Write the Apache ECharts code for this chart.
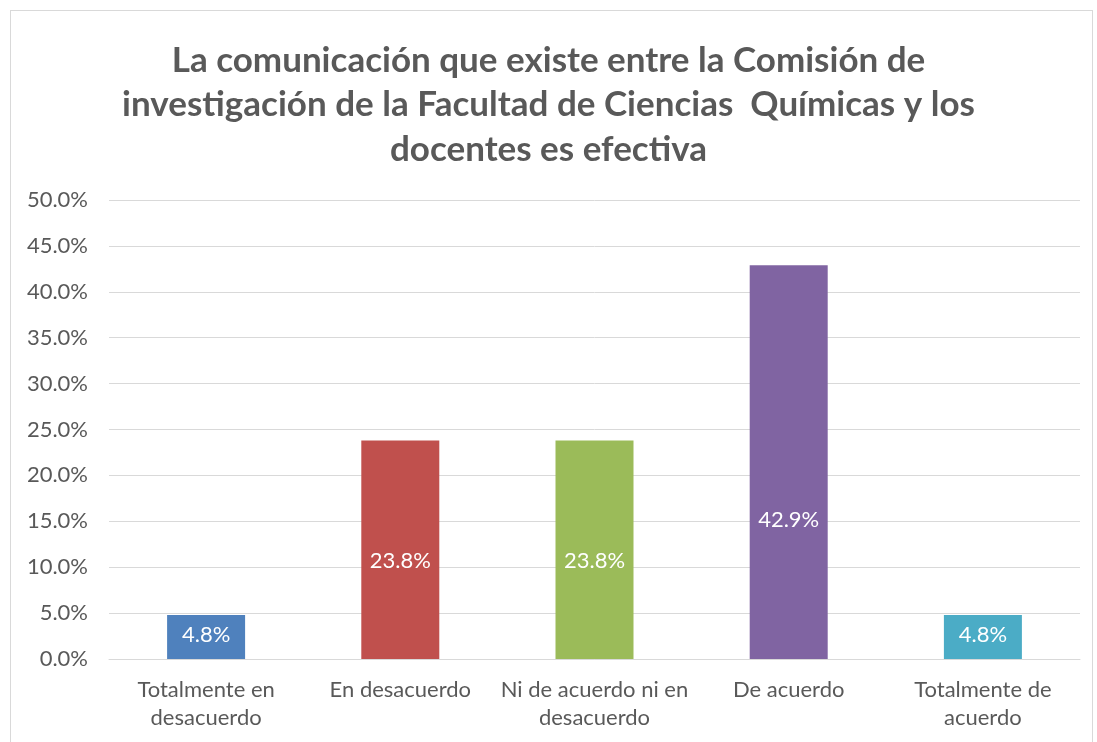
<!DOCTYPE html>
<html>
<head>
<meta charset="utf-8">
<script src="https://cdn.jsdelivr.net/npm/echarts@6/dist/echarts.min.js"></script>
<style>
  body { margin: 0; background: #fff; }
  #frame { position: absolute; left: 10px; top: 10px; width: 1081px; height: 760px; border: 1px solid #d9d9d9; }
  #chart { position: absolute; left: 0; top: 0; width: 1097px; height: 742px; }
</style>
</head>
<body>
<div id="frame"></div>
<div id="chart"></div>
<script>
// categorías y porcentajes
var categorias = ['Totalmente en\ndesacuerdo', 'En desacuerdo', 'Ni de acuerdo ni en\ndesacuerdo', 'De acuerdo', 'Totalmente de\nacuerdo']
var valores = [4.8, 23.8, 23.8, 42.9, 4.8]
var colores = ['#4f81bd', '#c0504d', '#9bbb59', '#8064a2', '#4bacc6']

var titulo = 'La comunicación que existe entre la Comisión de\ninvestigación de la Facultad de Ciencias  Químicas y los\ndocentes es efectiva'

var myChart = echarts.init(document.getElementById('chart'))

// las etiquetas no están centradas en el original, se bajan un poco
var bajarEtiqueta = [-2, 11, 11, 58, -2]

var data = []
for (var i = 0; i < valores.length; i++) {
  data.push({
    value: valores[i],
    itemStyle: { color: colores[i] },
    label: { offset: [0, bajarEtiqueta[i]] }
  })
}

var option = {
  animation: false,
  title: {
    text: titulo,
    left: 'center',
    top: 33,
    textStyle: {
      fontFamily: 'Lato',
      fontWeight: 'bold',
      fontSize: 35,
      lineHeight: 44.5,
      color: '#595959'
    }
  },
  grid: { left: 109, right: 17, top: 200, bottom: 83 },
  xAxis: {
    type: 'category',
    data: categorias,
    axisTick: { show: false },
    axisLine: { lineStyle: { color: '#d9d9d9' } },
    axisLabel: {
      fontFamily: 'Lato',
      fontSize: 22,
      lineHeight: 28,
      color: '#595959',
      margin: 17,
      interval: 0
    }
  },
  yAxis: {
    type: 'value',
    min: 0,
    max: 50,
    interval: 5,
    axisLine: { show: false },
    axisTick: { show: false },
    splitLine: { lineStyle: { color: '#d9d9d9', width: 1 } },
    axisLabel: {
      fontFamily: 'Lato',
      fontSize: 22,
      color: '#595959',
      margin: 21,
      formatter: function (v) { return v.toFixed(1) + '%' }
    }
  },
  series: [{
    type: 'bar',
    data: data,
    barWidth: 78,
    label: {
      show: true,
      position: 'inside',
      color: '#fff',
      fontFamily: 'Lato',
      fontSize: 22,
      formatter: function (p) { return p.value.toFixed(1) + '%' }
    }
  }]
}

myChart.setOption(option)
</script>
</body>
</html>
